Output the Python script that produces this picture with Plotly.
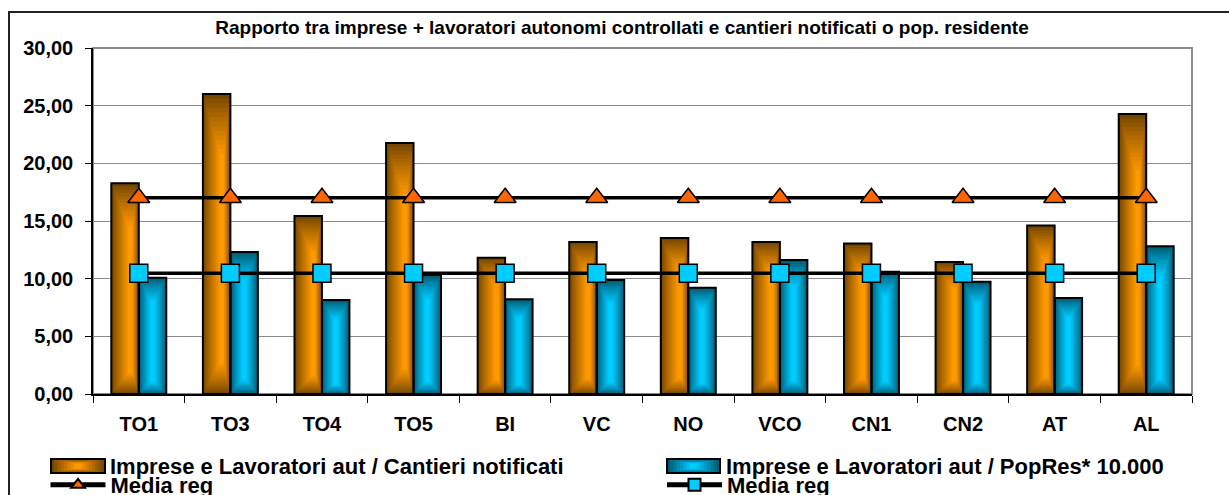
import plotly.graph_objects as go

# ---------------- data ----------------
categories = ["TO1", "TO3", "TO4", "TO5", "BI", "VC", "NO", "VCO", "CN1", "CN2", "AT", "AL"]
cantieri_ratio = [18.27, 26.02, 15.44, 21.77, 11.82, 13.18, 13.53, 13.18, 13.04, 11.45, 14.60, 24.28]
popres_ratio = [10.09, 12.32, 8.15, 10.32, 8.21, 9.89, 9.22, 11.62, 10.61, 9.74, 8.33, 12.81]
media_reg_cantieri = [17.02, 17.02, 17.02, 17.02, 17.02, 17.02, 17.02, 17.02, 17.02, 17.02, 17.02, 17.02]
media_reg_popres = [10.47, 10.47, 10.47, 10.47, 10.47, 10.47, 10.47, 10.47, 10.47, 10.47, 10.47, 10.47]
y_tick_vals = [0, 5, 10, 15, 20, 25, 30]
y_tick_text = ["0,00", "5,00", "10,00", "15,00", "20,00", "25,00", "30,00"]

name_cantieri = "Imprese e Lavoratori aut / Cantieri notificati"
name_popres = "Imprese e Lavoratori aut / PopRes* 10.000"
name_media = "Media reg"
title_text = "Rapporto tra imprese + lavoratori autonomi controllati e cantieri notificati o pop. residente"

# ---------------- styling ----------------
FONT = "Liberation Sans, Arial, sans-serif"
FIG_W, FIG_H = 1229, 495
L, R, T, B = 93, 1192, 48, 394  # plot area in px
PW, PH = R - L, B - T

ORANGE_DARK, ORANGE_BRIGHT = (0x74, 0x46, 0x00), (0xFF, 0x99, 0x00)
BLUE_DARK, BLUE_BRIGHT = (0x00, 0x5A, 0x74), (0x00, 0xCC, 0xFF)


def mix(c1, c2, t):
    return "rgb(%d,%d,%d)" % tuple(round(a + (b - a) * t) for a, b in zip(c1, c2))


def px_x(x):
    return (x - L) / PW


def px_y(y):
    return (B - y) / PH


fig = go.Figure()

BAR_W = 0.30
N_LAYERS = 14
series = [
    (cantieri_ratio, -BAR_W, 0.72, ORANGE_DARK, ORANGE_BRIGHT),
    (popres_ratio, 0.0, 0.50, BLUE_DARK, BLUE_BRIGHT),
]

# gradient layers (drawn from the data values)
for vals, off0, peak, cdark, cbright in series:
    for k in range(N_LAYERS):
        t = k / (N_LAYERS - 1)
        s = 1 - 0.85 * t
        left = off0 + peak * (1 - s) * BAR_W
        top_in = 0.20 * t
        bot_in = 0.10 * t
        fig.add_trace(go.Bar(
            x=categories,
            y=[v * (1 - top_in - bot_in) for v in vals],
            base=[v * bot_in for v in vals],
            offset=left, width=s * BAR_W,
            marker=dict(color=mix(cdark, cbright, t ** 0.85), line=dict(width=0)),
            showlegend=False, hoverinfo="skip",
        ))

# outlines
for vals, off0, peak, cdark, cbright in series:
    fig.add_trace(go.Bar(
        x=categories, y=vals, offset=off0, width=BAR_W,
        marker=dict(color="rgba(0,0,0,0)", line=dict(color="black", width=2)),
        showlegend=False, hoverinfo="x+y",
    ))

# legend-only entries for bars (swatches drawn as shapes)
fig.add_trace(go.Bar(x=[categories[0]], y=[None], name=name_cantieri, legend="legend",
                     marker=dict(color="rgba(0,0,0,0)", line=dict(width=0)), showlegend=True))
fig.add_trace(go.Bar(x=[categories[0]], y=[None], name=name_popres, legend="legend2",
                     marker=dict(color="rgba(0,0,0,0)", line=dict(width=0)), showlegend=True))

# media lines
fig.add_trace(go.Scatter(
    x=categories, y=media_reg_cantieri, name=name_media, mode="lines+markers",
    line=dict(color="black", width=3.5),
    marker=dict(symbol="triangle-up", size=19, color="#FF6600", line=dict(color="black", width=1.5)),
    legend="legend3",
))
fig.add_trace(go.Scatter(
    x=categories, y=media_reg_popres, name=name_media, mode="lines+markers",
    line=dict(color="black", width=3.5),
    marker=dict(symbol="square", size=18, color="#00CCFF", line=dict(color="black", width=1.5)),
    legend="legend4",
))

# ---------------- shapes ----------------
shapes = []
# outer chart border
shapes.append(dict(type="rect", xref="paper", yref="paper",
                   x0=px_x(9), x1=px_x(1245), y0=px_y(520), y1=px_y(12),
                   line=dict(color="#222222", width=2), fillcolor="rgba(0,0,0,0)", layer="below"))
# plot area border (grey)
shapes.append(dict(type="rect", xref="paper", yref="paper", x0=0, x1=1, y0=0, y1=1,
                   line=dict(color="#8C8C8C", width=2), fillcolor="rgba(0,0,0,0)", layer="below"))


def swatch(x0, x1, y0, y1, cdark, cbright):
    n = 8
    out = []
    w, h = x1 - x0, y1 - y0
    for k in range(n):
        t = k / (n - 1)
        s = 1 - 0.85 * t
        sv = 1 - 0.6 * t
        cx, cy = (x0 + x1) / 2, (y0 + y1) / 2
        out.append(dict(type="rect", xref="paper", yref="paper",
                        x0=px_x(cx - s * w / 2), x1=px_x(cx + s * w / 2),
                        y0=px_y(cy + sv * h / 2), y1=px_y(cy - sv * h / 2),
                        line=dict(width=0), fillcolor=mix(cdark, cbright, t), layer="above"))
    out.append(dict(type="rect", xref="paper", yref="paper",
                    x0=px_x(x0), x1=px_x(x1), y0=px_y(y1), y1=px_y(y0),
                    line=dict(color="black", width=2), fillcolor="rgba(0,0,0,0)", layer="above"))
    return out


shapes += swatch(51, 105, 459, 473, ORANGE_DARK, ORANGE_BRIGHT)
shapes += swatch(667, 720, 459, 473, BLUE_DARK, BLUE_BRIGHT)

legend_font = dict(family=FONT, size=22, color="black", weight="bold")


def legend_at(xpx, ypx):
    return dict(xref="container", yref="container", x=xpx / FIG_W, y=1 - ypx / FIG_H,
                xanchor="left", yanchor="middle", orientation="v",
                font=legend_font, itemwidth=55, itemsizing="constant",
                bgcolor="rgba(0,0,0,0)", borderwidth=0,
                itemclick=False, itemdoubleclick=False)


fig.update_layout(
    width=FIG_W, height=FIG_H,
    margin=dict(l=L, r=FIG_W - R, t=T, b=FIG_H - B, autoexpand=False),
    paper_bgcolor="white", plot_bgcolor="white",
    barmode="overlay",
    separators=",.",
    font=dict(family=FONT, color="black"),
    title=dict(text=title_text, x=622 / FIG_W, xref="container", xanchor="center",
               y=1 - 27 / FIG_H, yref="container", yanchor="middle",
               font=dict(family=FONT, size=19, color="black", weight="bold")),
    xaxis=dict(type="category", categoryorder="array", categoryarray=categories,
               range=[-0.5, len(categories) - 0.5],
               tickson="boundaries", ticks="outside", ticklen=7, tickwidth=1, tickcolor="black",
               showline=True, linecolor="black", linewidth=1.5, showgrid=False,
               tickfont=dict(family=FONT, size=20, color="black", weight="bold"),
               ticklabelstandoff=11),
    yaxis=dict(range=[0, 30], tickvals=y_tick_vals, ticktext=y_tick_text,
               ticks="outside", ticklen=6, tickwidth=1, tickcolor="black",
               showline=True, linecolor="black", linewidth=1.5,
               showgrid=True, gridcolor="#8C8C8C", gridwidth=1, zeroline=False,
               tickfont=dict(family=FONT, size=20, color="black", weight="bold"),
               ticklabelstandoff=8),
    legend=legend_at(45, 466),
    legend2=legend_at(661, 466),
    legend3=legend_at(45.5, 485),
    legend4=legend_at(662, 485),
    shapes=shapes,
    showlegend=True,
)

fig.write_html("out.html", config={"displayModeBar": False},
               post_script="document.body.style.margin='0px';")
